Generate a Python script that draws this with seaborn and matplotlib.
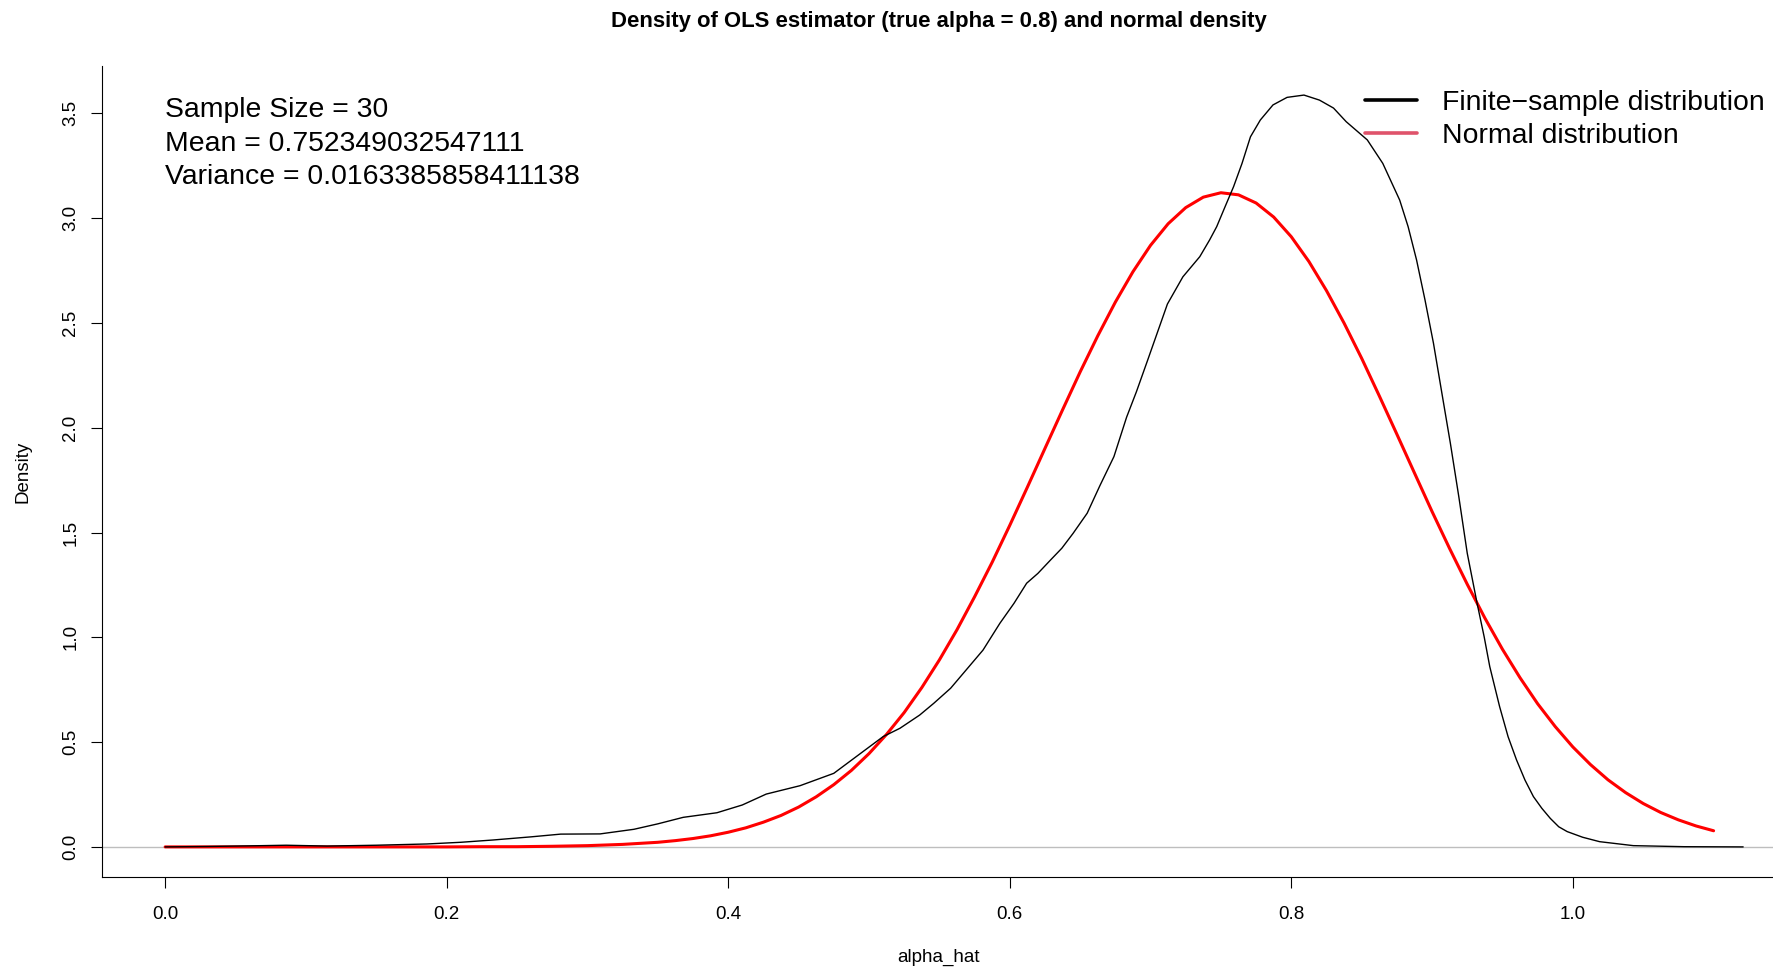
import matplotlib
matplotlib.use("Agg")
import matplotlib.pyplot as plt
from matplotlib.lines import Line2D
import seaborn as sns

# finite-sample density (black)
FINITE_X = [0.000, 0.030, 0.060, 0.086, 0.115, 0.150, 0.186, 0.210, 0.233, 0.260,
            0.281, 0.309, 0.333, 0.350, 0.368, 0.392, 0.410, 0.427, 0.451, 0.475,
            0.494, 0.510, 0.522, 0.536, 0.546, 0.558, 0.569, 0.581, 0.593, 0.603,
            0.612, 0.620, 0.629, 0.637, 0.645, 0.655, 0.664, 0.674, 0.683, 0.690,
            0.698, 0.712, 0.723, 0.735, 0.742, 0.747, 0.753, 0.759, 0.765, 0.771,
            0.778, 0.787, 0.797, 0.809, 0.820, 0.830, 0.839, 0.854, 0.865, 0.877,
            0.883, 0.889, 0.895, 0.901, 0.907, 0.913, 0.919, 0.925, 0.932, 0.937,
            0.941, 0.948, 0.954, 0.960, 0.966, 0.972, 0.978, 0.984, 0.990, 0.996,
            1.007, 1.019, 1.043, 1.079, 1.121]
FINITE_Y = [0.000, 0.002, 0.005, 0.008, 0.004, 0.008, 0.014, 0.022, 0.033, 0.048,
            0.061, 0.062, 0.084, 0.110, 0.141, 0.163, 0.200, 0.252, 0.292, 0.351,
            0.446, 0.526, 0.566, 0.629, 0.685, 0.757, 0.844, 0.939, 1.067, 1.162,
            1.258, 1.305, 1.369, 1.425, 1.496, 1.592, 1.723, 1.862, 2.050, 2.172,
            2.323, 2.590, 2.720, 2.816, 2.896, 2.959, 3.055, 3.150, 3.261, 3.388,
            3.468, 3.540, 3.576, 3.587, 3.563, 3.525, 3.460, 3.373, 3.261, 3.086,
            2.959, 2.800, 2.609, 2.403, 2.164, 1.926, 1.671, 1.401, 1.162, 1.003,
            0.860, 0.669, 0.526, 0.415, 0.319, 0.240, 0.184, 0.136, 0.096, 0.073,
            0.046, 0.025, 0.006, 0.001, 0.000]

# normal density (red)
NORMAL_X = [0.000, 0.050, 0.100, 0.150, 0.200, 0.225, 0.250, 0.275, 0.300, 0.325,
            0.350, 0.3625, 0.375, 0.3875, 0.400, 0.4125, 0.425, 0.4375, 0.450, 0.4625,
            0.475, 0.4875, 0.500, 0.5125, 0.525, 0.5375, 0.550, 0.5625, 0.575, 0.5875,
            0.600, 0.6125, 0.625, 0.6375, 0.650, 0.6625, 0.675, 0.6875, 0.700, 0.7125,
            0.725, 0.7375, 0.750, 0.7625, 0.775, 0.7875, 0.800, 0.8125, 0.825, 0.8375,
            0.850, 0.8625, 0.875, 0.8875, 0.900, 0.9125, 0.925, 0.9375, 0.950, 0.9625,
            0.975, 0.9875, 1.000, 1.0125, 1.025, 1.0375, 1.050, 1.0625, 1.075, 1.0875,
            1.100]
NORMAL_Y = [0.000, 0.000, 0.000, 0.000, 0.000, 0.001, 0.001, 0.003, 0.006, 0.012,
            0.022, 0.030, 0.040, 0.053, 0.070, 0.091, 0.118, 0.150, 0.190, 0.239,
            0.297, 0.365, 0.445, 0.537, 0.641, 0.760, 0.892, 1.036, 1.193, 1.358,
            1.534, 1.716, 1.901, 2.085, 2.266, 2.438, 2.599, 2.744, 2.870, 2.973,
            3.050, 3.100, 3.121, 3.111, 3.072, 3.005, 2.911, 2.793, 2.654, 2.499,
            2.331, 2.152, 1.969, 1.784, 1.600, 1.423, 1.253, 1.092, 0.943, 0.807,
            0.683, 0.574, 0.477, 0.393, 0.320, 0.259, 0.207, 0.164, 0.129, 0.100,
            0.077]

X_TICKS = [0.0, 0.2, 0.4, 0.6, 0.8, 1.0]
Y_TICKS = [0.0, 0.5, 1.0, 1.5, 2.0, 2.5, 3.0, 3.5]

TITLE = "Density of OLS estimator (true alpha = 0.8) and normal density"
INFO_LINES = ["Sample Size = 30", "Mean = 0.752349032547111", "Variance = 0.0163385858411138"]
LEGEND_LABELS = ["Finite\u2212sample distribution", "Normal distribution"]
LEGEND_COLORS = ["black", "#DF536B"]

sns.set_style("white")
plt.rcParams.update({
    "font.family": ["Liberation Sans", "DejaVu Sans"],
    "text.color": "black",
    "xtick.color": "black",
    "ytick.color": "black",
    "xtick.bottom": True,
    "ytick.left": True,
    "xtick.direction": "out",
    "ytick.direction": "out",
    "xtick.major.size": 8.1,
    "ytick.major.size": 8.1,
    "xtick.major.width": 0.8,
    "ytick.major.width": 0.8,
})

W, H = 1773, 969
fig = plt.figure(figsize=(W / 100, H / 100), dpi=100)
ax = fig.add_axes([101.8 / W, 91.6 / H, 1 - 101.8 / W, (877.4 - 65.6) / H])

ax.axhline(0, color="#BEBEBE", linewidth=1.0, zorder=1)
sns.lineplot(x=FINITE_X, y=FINITE_Y, color="black", linewidth=1.0, ax=ax, zorder=3)
sns.lineplot(x=NORMAL_X, y=NORMAL_Y, color="red", linewidth=2.2, ax=ax, zorder=2)

ax.set_xlim(-0.045, 1.1422)
ax.set_ylim(-0.1455, 3.7276)
ax.set_xticks(X_TICKS)
ax.set_xticklabels([f"{v:.1f}" for v in X_TICKS])
ax.set_yticks(Y_TICKS)
ax.set_yticklabels([f"{v:.1f}" for v in Y_TICKS], rotation=90, va="center")
ax.tick_params(labelsize=13.5, labelcolor="black")
ax.tick_params(axis="x", pad=12.7)
ax.tick_params(axis="y", pad=8)
ax.set_xlabel("")
ax.set_ylabel("")
for side in ["top", "right"]:
    ax.spines[side].set_visible(False)
for side in ["left", "bottom"]:
    ax.spines[side].set_color("black")
    ax.spines[side].set_linewidth(0.8)

for i, line in enumerate(INFO_LINES):
    ax.text(0.0, 3.517 - i * 0.1615, line, fontsize=20.4, ha="left", va="center")

handles = [Line2D([], [], color=c, linewidth=2.6) for c in LEGEND_COLORS]
ax.legend(handles, LEGEND_LABELS, loc="upper left", bbox_to_anchor=(1365 / W, 1 - 90 / H),
          bbox_transform=fig.transFigure, frameon=False, fontsize=20.4,
          handlelength=1.84, handletextpad=0.88, labelspacing=0.24, borderpad=0,
          borderaxespad=0)

fig.text(938.5 / W, 1 - 21.5 / H, TITLE, fontsize=15.9, fontweight="bold", ha="center", va="center")
fig.text(938.5 / W, 1 - 957.7 / H, "alpha_hat", fontsize=13.5, ha="center", va="center")
fig.text(22.6 / W, 1 - 471.5 / H, "Density", fontsize=13.5, rotation=90, ha="center", va="center")

fig.savefig("out.png", dpi=100)
plt.close(fig)
